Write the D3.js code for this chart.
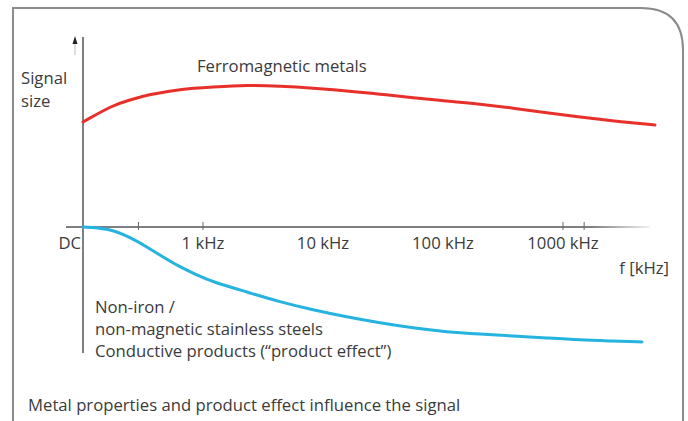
<!DOCTYPE html>
<html>
<head>
<meta charset="utf-8">
<script src="https://cdn.jsdelivr.net/npm/d3@7"></script>
<style>
  body { margin: 0; background: #fff; }
  text { font-family: 'Open Sans', sans-serif; fill: #3b3b3b; font-size: 16.7px; }
</style>
</head>
<body>
<div id="chart"></div>
<script>
// frequency in kHz, signal in arbitrary units (0 = x axis)
var ferroFreq = [0.1, 0.178, 0.246, 0.341, 0.643, 1.21, 2.33, 4.38, 8.25, 15.8, 29.9, 56.2, 108, 203, 383, 735, 1386, 2610, 5840]
var ferroSignal = [1.05, 1.22, 1.27, 1.32, 1.38, 1.40, 1.42, 1.41, 1.39, 1.36, 1.33, 1.29, 1.26, 1.23, 1.19, 1.14, 1.10, 1.06, 1.02]

var nonFerroFreq = [0.1, 0.158, 0.246, 0.341, 0.464, 0.643, 0.891, 1.21, 2.33, 4.38, 8.25, 15.8, 29.9, 56.2, 108, 203, 383, 735, 1386, 2610, 4550]
var nonFerroSignal = [0, -0.01, -0.10, -0.20, -0.30, -0.40, -0.48, -0.55, -0.65, -0.75, -0.83, -0.90, -0.96, -1.01, -1.05, -1.07, -1.09, -1.11, -1.13, -1.14, -1.15]

var tickValues = [0.29, 1, 1000, 1500]
var labelValues = [1, 10, 100, 1000]
var labelTexts = ['1 kHz', '10 kHz', '100 kHz', '1000 kHz']

var width = 688
var height = 421

var x = d3.scaleLog()
          .domain([1, 1000])
          .range([203, 563])

var y = d3.scaleLinear()
          .domain([0, 1])
          .range([227, 127])

var svg = d3.select('#chart')
  .append('svg')
  .attr('width', width)
  .attr('height', height)

// fade for the right end of the x axis
var grad = svg.append('defs').append('linearGradient')
  .attr('id', 'fade')
  .attr('x1', '0%').attr('x2', '100%')
grad.append('stop').attr('offset', '90%').attr('stop-color', '#555').attr('stop-opacity', 1)
grad.append('stop').attr('offset', '100%').attr('stop-color', '#555').attr('stop-opacity', 0.1)

// frame with rounded top right corner
var r = 42
svg.append('path')
  .attr('d', 'M13,' + height + ' L13,8 L' + (683 - r) + ',8 Q683,8 683,' + (8 + r) + ' L683,' + height)
  .attr('fill', 'none')
  .attr('stroke', '#8c8c8c')
  .attr('stroke-width', 2)

// x axis line
svg.append('rect')
  .attr('x', 66)
  .attr('y', y(0) - 0.75)
  .attr('width', 650 - 66)
  .attr('height', 1.5)
  .attr('fill', 'url(#fade)')

svg.selectAll('line.tick')
  .data(tickValues)
  .enter().append('line')
  .attr('class', 'tick')
  .attr('x1', function (d) { return x(d) })
  .attr('x2', function (d) { return x(d) })
  .attr('y1', y(0) - 5)
  .attr('y2', y(0) + 3)
  .attr('stroke', '#666')
  .attr('stroke-width', 1)

// y axis line and arrow
svg.append('line')
  .attr('x1', x(0.1)).attr('x2', x(0.1))
  .attr('y1', 37).attr('y2', 353)
  .attr('stroke', '#555')
  .attr('stroke-width', 1.5)

svg.append('path')
  .attr('d', 'M75,36 L72.5,44 L77.5,44 Z')
  .attr('fill', '#222')
svg.append('line')
  .attr('x1', 75).attr('x2', 75)
  .attr('y1', 44).attr('y2', 55)
  .attr('stroke', '#bbb')
  .attr('stroke-width', 1)

var line = d3.line()
  .x(function (d) { return x(d[0]) })
  .y(function (d) { return y(d[1]) })
  .curve(d3.curveBasis)

svg.append('path')
  .datum(d3.zip(ferroFreq, ferroSignal))
  .attr('d', line)
  .attr('fill', 'none')
  .attr('stroke', '#e8302b')
  .attr('stroke-width', 3)
  .attr('stroke-linecap', 'round')

svg.append('path')
  .datum(d3.zip(nonFerroFreq, nonFerroSignal))
  .attr('d', line)
  .attr('fill', 'none')
  .attr('stroke', '#25b3df')
  .attr('stroke-width', 3)
  .attr('stroke-linecap', 'round')

// x labels
svg.selectAll('text.xLabel')
  .data(labelValues)
  .enter().append('text')
  .attr('class', 'xLabel')
  .attr('x', function (d) { return x(d) })
  .attr('y', 249)
  .attr('text-anchor', 'middle')
  .text(function (d, i) { return labelTexts[i] })

svg.append('text')
  .attr('x', 81).attr('y', 249)
  .attr('text-anchor', 'end')
  .text('DC')

svg.append('text')
  .attr('x', 669).attr('y', 274)
  .attr('text-anchor', 'end')
  .text('f [kHz]')

// y label
svg.append('text').attr('x', 21).attr('y', 84).text('Signal')
svg.append('text').attr('x', 21).attr('y', 107).text('size')

// series labels
svg.append('text').attr('x', 197).attr('y', 72).text('Ferromagnetic metals')
svg.append('text').attr('x', 95).attr('y', 313).text('Non-iron /')
svg.append('text').attr('x', 95).attr('y', 335).text('non-magnetic stainless steels')
svg.append('text').attr('x', 95).attr('y', 357).text('Conductive products (\u201Cproduct effect\u201D)')

// caption
svg.append('text').attr('x', 28).attr('y', 411)
  .text('Metal properties and product effect influence the signal')
</script>
</body>
</html>
